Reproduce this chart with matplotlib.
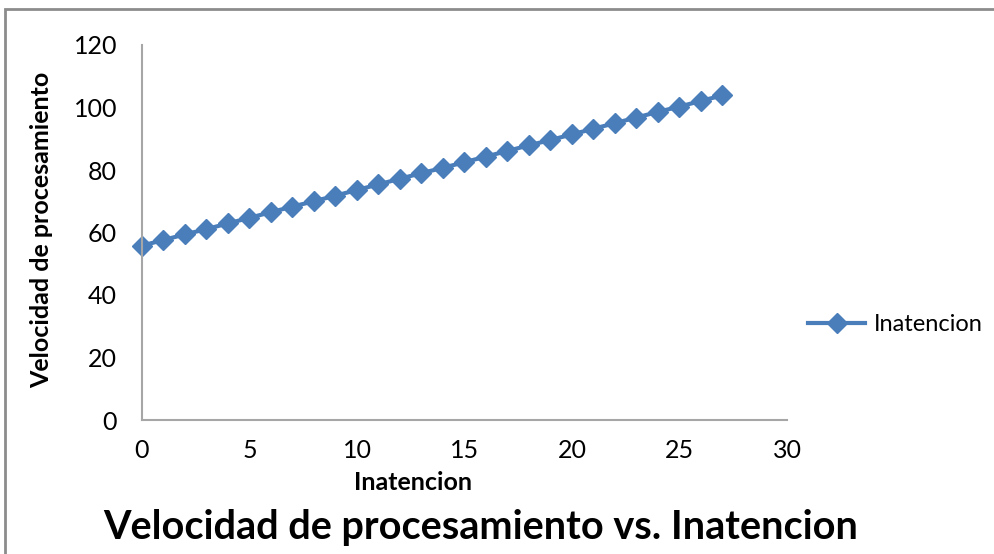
import matplotlib
matplotlib.use("Agg")
import matplotlib.pyplot as plt
from matplotlib.patches import Rectangle

plt.rcParams['font.family'] = ['Lato', 'DejaVu Sans']

# Inatencion (x) and velocidad de procesamiento (y)
inatencion = list(range(0, 28))
velocidad = [55.8, 57.6, 59.4, 61.1, 62.9, 64.7, 66.5, 68.3, 70.0, 71.8,
             73.6, 75.4, 77.2, 79.0, 80.7, 82.5, 84.3, 86.1, 87.9, 89.6,
             91.4, 93.2, 95.0, 96.8, 98.6, 100.3, 102.1, 103.9]
x_ticks = [0, 5, 10, 15, 20, 25, 30]
y_ticks = [0, 20, 40, 60, 80, 100, 120]

blue = '#4A7EBB'
grey = '#A6A6A6'

fig = plt.figure(figsize=(9.95, 5.54), dpi=100)
# chart area border
fig.patches.append(Rectangle((0.005, -0.05), 1.1, 1.05 - 9 / 554, transform=fig.transFigure,
                             fill=False, edgecolor='#8C8C8C', linewidth=2))

ax = fig.add_axes([142 / 995, 1 - 420 / 554, 645 / 995, 375 / 554])
ax.plot(inatencion, velocidad, color=blue, linewidth=3, marker='D', markersize=10,
        markeredgecolor=blue, label='Inatencion', clip_on=False)

ax.set_xlim(0, 30)
ax.set_ylim(0, 120)
ax.set_xticks(x_ticks)
ax.set_yticks(y_ticks)
ax.tick_params(length=0, labelsize=18, colors='#000000')
ax.tick_params(axis='x', pad=14)
ax.tick_params(axis='y', pad=18)
for s in ['top', 'right']:
    ax.spines[s].set_visible(False)
for s in ['left', 'bottom']:
    ax.spines[s].set_color(grey)
    ax.spines[s].set_linewidth(1.5)

ax.set_xlabel('Inatencion', fontsize=18, fontweight='bold', va='center')
ax.xaxis.set_label_coords(0.42, -0.168)
ax.set_ylabel('Velocidad de procesamiento', fontsize=18, fontweight='bold', va='center')
ax.yaxis.set_label_coords(-0.155, 0.507)

ax.legend(loc='center left', bbox_to_anchor=(1.0, 0.255), frameon=False, fontsize=17,
          handlelength=2.4, handletextpad=0.4, borderaxespad=0.5)

fig.text(0.483, 1 - 527 / 554, 'Velocidad de procesamiento vs. Inatencion', ha='center',
         va='center', fontsize=28.5, fontweight='bold')

fig.savefig('out.png', dpi=100)
